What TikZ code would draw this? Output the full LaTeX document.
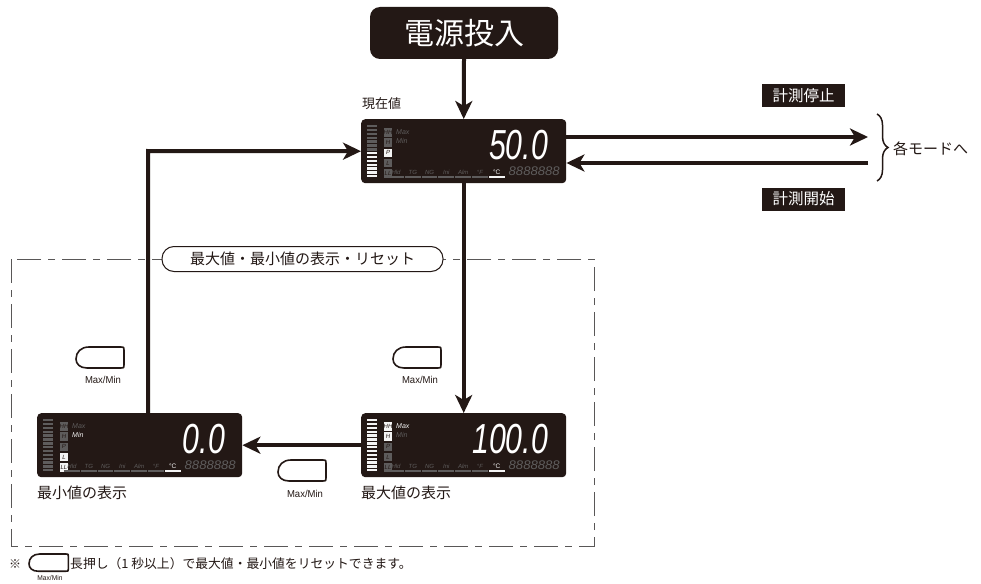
\documentclass[tikz,border=0pt]{standalone}
\usepackage{fontspec}
\setmainfont{Liberation Sans}
\newfontfamily\jp{Noto Sans CJK JP}
\usetikzlibrary{arrows.meta,decorations.pathreplacing}
\definecolor{dark}{HTML}{231815}
\definecolor{lcdgray}{HTML}{5E5C5C}
\definecolor{lcdwhite}{HTML}{F4F4F4}
\definecolor{dashgray}{HTML}{595757}
\tikzset{
  arr/.style={line width=4pt, draw=dark, -{Stealth[length=18pt,width=17pt,inset=5pt]}},
  lcd/.style={fill=dark, rounded corners=4pt, minimum width=205pt, minimum height=64pt, inner sep=0pt, anchor=north west},
  darkbox/.style={fill=dark, text=white, font=\jp\fontsize{15.5}{15.5}\selectfont, inner sep=0pt, minimum width=83pt, minimum height=23pt},
  jplabel/.style={text=dark, inner sep=0pt, anchor=west, font=\jp\fontsize{15}{15}\selectfont},
  mmlabel/.style={text=dark, inner sep=0pt, font=\fontsize{10}{10}\selectfont, xscale=0.95},
  tagtext/.style={inner sep=0pt, font=\fontsize{6}{6}\selectfont\itshape},
  rowtext/.style={inner sep=0pt, font=\fontsize{6}{6}\selectfont\itshape},
  bignum/.style={inner sep=0pt, anchor=base east, text=white, text height=30pt, text depth=0pt, font=\fontsize{42}{42}\selectfont\itshape, xscale=0.72},
  smallnum/.style={inner sep=0pt, anchor=base east, text=lcdgray, text height=9pt, text depth=0pt, font=\fontsize{12.5}{12.5}\selectfont\itshape, xscale=1.05},
  dashbox/.style={draw=dashgray, line width=1pt, dash pattern=on 24pt off 7pt on 7pt off 7pt},
  btn/.pic={\draw[draw=dark, line width=1.6pt, line join=round]
     (13,0) -- (45,0) .. controls (48,0) .. (48,3) -- (48,18) .. controls (48,21) .. (45,21)
     -- (11,21) .. controls (4,21) and (0,17) .. (0,12)
     .. controls (0,5) and (5,0) .. (13,0) -- cycle;}
}
% #1 prefix, #2 gray bars, #3-#7 HH H P L LL fills, #8 Max col, #9 Min col
\newcommand\lcdinner[9]{%
  \foreach \i in {0,...,13}{%
    \ifnum\i<#2\relax\def\bc{lcdgray}\else\def\bc{lcdwhite}\fi
    \fill[\bc] (6,{6+\i*3.85}) rectangle (16,{8.4+\i*3.85});
  }
  \foreach \t/\c [count=\k from 0] in {HH/#3,H/#4,P/#5,L/#6,LL/#7}{%
    \fill[\c] (23,{9+\k*10.3}) rectangle (31,{17.5+\k*10.3});
    \node[tagtext, text=dark] (#1tag\k) at (27,{13.25+\k*10.3}) {\t};
  }
  \node[tagtext, anchor=west, text=#8, font=\fontsize{7}{7}\selectfont\itshape] (#1max) at (35,13) {Max};
  \node[tagtext, anchor=west, text=#9, font=\fontsize{7}{7}\selectfont\itshape] (#1min) at (35,22) {Min};
  \foreach \t [count=\k from 0] in {Hld,TG,NG,Ini,Alm,°F}{%
    \fill[lcdgray] ({27+\k*16.8},56.5) rectangle ({42.8+\k*16.8},58.5);
    \node[rowtext, text=lcdgray] (#1row\k) at ({35+\k*16.8},53) {\t};
  }
  \fill[lcdwhite] (127.8,56.5) rectangle (143.6,58.5);
  \node[rowtext, text=lcdwhite, font=\fontsize{6.5}{6.5}\selectfont] (#1rowc) at (135.7,53) {°C};
  \node[smallnum] (#1small) at (199,56) {8888888};
}
\begin{document}
\begin{tikzpicture}[x=1pt, y=-1pt]
\path[fill=white] (0,0) rectangle (981,583);
\useasboundingbox (0,0) rectangle (981,583);

% dashed frame
\draw[dashbox] (11,259) rectangle (594,546);
\node[draw=dark, line width=1pt, fill=white, rounded corners=12pt, minimum width=281pt, minimum height=25pt, inner sep=0pt, text=dark, font=\jp\fontsize{15}{15}\selectfont] (pill) at (302.5,259) {最大値・最小値の表示・リセット};

% power on
\node[fill=dark, rounded corners=10pt, minimum width=188pt, minimum height=52pt, inner sep=0pt, text=white, font=\jp\fontsize{30}{30}\selectfont] (p) at (464,33) {電源投入};

% displays
\node[lcd] (d1) at (361,119) {};
\node[lcd] (d3) at (361,413) {};
\node[lcd] (d2) at (37,413) {};

\begin{scope}[shift={(d1.north west)}]
  \lcdinner{a}{7}{lcdgray}{lcdgray}{lcdwhite}{lcdgray}{lcdgray}{lcdgray}{lcdgray}
  \node[bignum] (n1) at (187,40) {50.0};
\end{scope}
\begin{scope}[shift={(d3.north west)}]
  \lcdinner{c}{0}{lcdwhite}{lcdwhite}{lcdgray}{lcdgray}{lcdgray}{lcdwhite}{lcdgray}
  \node[bignum] (n3) at (187,40) {100.0};
\end{scope}
\begin{scope}[shift={(d2.north west)}]
  \lcdinner{b}{14}{lcdgray}{lcdgray}{lcdgray}{lcdwhite}{lcdwhite}{lcdgray}{lcdwhite}
  \node[bignum] (n2) at (188,40) {0.0};
\end{scope}

% labels
\node[jplabel, font=\jp\fontsize{13}{13}\selectfont] (lcur) at (362,104) {現在値};
\node[jplabel] (lmax) at (361,493) {最大値の表示};
\node[jplabel] (lmin) at (37,493) {最小値の表示};

% arrows
\draw[arr] (p.south) -- (d1.north);
\draw[arr] (d1.south) -- (d3.north);
\draw[arr] (d3.west) -- (d2.east);
\coordinate (lp) at (148,151);
\draw[arr] (lp |- d2.north) -- (lp) -- (d1.west);
\coordinate (r1) at (868,137);
\coordinate (r2) at (868,163);
\draw[arr] (d1.east |- r1) -- (r1);
\draw[arr] (r2) -- (d1.east |- r2);

% right side
\node[darkbox] (stop) at (803.5,96) {計測停止};
\node[darkbox] (start) at (803.5,199) {計測開始};
\coordinate (br1) at (877,114);
\coordinate (br2) at (877,181);
\draw[draw=dark, line width=1.5pt, decorate, decoration={brace, amplitude=11pt}] (br1) -- (br2);
\node[jplabel] (modes) at (893,149) {各モードへ};

% buttons
\pic (b1) at (76,347) {btn};
\node[mmlabel] (m1) at (103,380) {Max/Min};
\pic (b2) at (393,347) {btn};
\node[mmlabel] (m2) at (420,380) {Max/Min};
\pic (b3) at (278,460) {btn};
\node[mmlabel] (m3) at (305,494) {Max/Min};

% footnote
\node[jplabel, font=\jp\fontsize{12}{12}\selectfont] (kome) at (9,564) {※};
\pic[scale=0.82] (b4) at (29,554) {btn};
\node[mmlabel, font=\fontsize{7}{7}\selectfont] (m4) at (50,578) {Max/Min};
\node[jplabel, font=\jp\fontsize{12.8}{12.8}\selectfont] (note) at (70,564) {長押し（1 秒以上）で最大値・最小値をリセットできます。};
\end{tikzpicture}
\end{document}
